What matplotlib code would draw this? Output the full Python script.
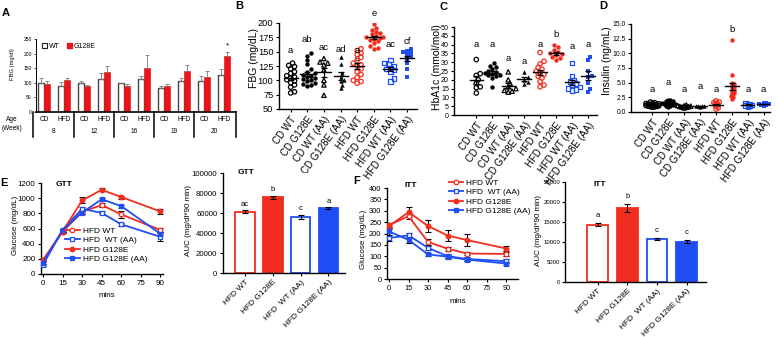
import numpy as np
import matplotlib
matplotlib.use("Agg")
import matplotlib.pyplot as plt
from matplotlib.patches import Patch

plt.rcParams['font.family'] = ['Liberation Sans', 'DejaVu Sans']

RED = '#f22d1f'
BLUE = '#1f4ef5'
A_RED = '#e8161c'

# ---------------- data ----------------
# A: FBG by age / diet / genotype
ages = ['8', '12', '16', '19', '20']
diets = ['CD', 'HFD']
a_wt = [100, 90, 99, 112, 98, 112, 82, 106, 107, 128]
a_wt_err = [15, 13, 7, 22, 3, 12, 7, 10, 17, 20]
a_mut = [97, 108, 88, 138, 89, 150, 90, 142, 120, 192]
a_mut_err = [10, 8, 5, 20, 7, 44, 7, 20, 20, 15]

groups = ['CD WT', 'CD G128E', 'CD WT (AA)', 'CD G128E (AA)',
          'HFD WT', 'HFD G128E', 'HFD WT (AA)', 'HFD G128E (AA)']

# B: FBG (mg/dL)
fbg = [
    [130, 126, 124, 120, 115, 112, 108, 106, 104, 101, 99, 96, 92, 88, 80, 78],
    [148, 143, 135, 128, 120, 115, 112, 110, 108, 106, 104, 102, 100, 98, 96, 94, 92, 90],
    [138, 132, 130, 127, 118, 100, 92, 74],
    [140, 128, 112, 106, 101, 98, 92, 86],
    [155, 152, 148, 145, 140, 135, 130, 127, 125, 120, 115, 110, 105, 100, 98, 95],
    [198, 192, 188, 185, 182, 180, 178, 176, 175, 174, 172, 170, 168, 165, 160, 157, 155],
    [135, 130, 128, 125, 122, 120, 118, 115, 103, 98],
    [155, 152, 150, 148, 145, 140, 138, 130, 120, 105],
]
fbg_letters = ['a', 'ab', 'ac', 'ad', 'a', 'e', 'ac', 'cf']
fbg_letter_y = [152, 172, 158, 154, 152, 216, 162, 167]

# C: HbA1c (mmol/mol)
hba1c = [
    [31.5, 23.5, 22.5, 20, 18, 16, 15.5, 12.5],
    [29.5, 28, 27, 26, 25, 24.5, 24, 23.5, 23, 22.5, 22, 21, 16],
    [24.5, 20, 18, 16, 15, 14, 13.5, 13],
    [24.5, 21.5, 20, 19, 17.5],
    [35.5, 30.5, 29, 27, 26, 25, 24, 23, 22, 21, 19, 17, 16],
    [40, 38.5, 37, 36, 35, 34.5, 34, 33, 32.5, 31.5],
    [29.5, 22, 20, 19, 18, 17, 16, 15, 14.5, 14],
    [33, 31, 25, 22, 21.5, 18, 15, 13],
]
hba1c_letters = ['a', 'a', 'a', 'a', 'a', 'b', 'a', 'a']
hba1c_letter_y = [40, 40, 32, 30.5, 40, 46, 39, 40]

# D: Insulin (ng/mL)
insulin = [
    [1.7, 1.6, 1.5, 1.45, 1.4, 1.35, 1.3, 1.25, 1.2, 1.15, 1.1, 1.05, 1.0, 0.95, 0.9, 0.85, 0.8],
    [2.1, 2.0, 1.9, 1.8, 1.7, 1.6, 1.5, 1.45, 1.4, 1.35, 1.3, 1.25, 1.2, 1.1, 1.0, 0.9],
    [1.2, 1.1, 1.05, 1.0, 0.95, 0.9, 0.85, 0.8, 0.7],
    [1.1, 1.05, 1.0, 0.95, 0.9],
    [1.9, 1.7, 1.6, 1.5, 1.3, 1.2, 1.0, 0.7, 0.5],
    [12.3, 6.3, 5.0, 4.8, 4.6, 4.4, 4.2, 4.0, 3.8, 3.6, 3.4, 3.2, 3.0, 2.7, 2.5, 2.2],
    [1.5, 1.4, 1.3, 1.2, 1.1, 1.0, 0.9],
    [1.6, 1.5, 1.4, 1.35, 1.3, 1.25, 1.2, 1.1],
]
insulin_letters = ['a', 'a', 'a', 'a', 'a', 'b', 'a', 'a']
insulin_letter_y = [3.9, 5.1, 3.75, 4.3, 3.75, 14.1, 3.75, 3.75]

# E/F: tolerance tests
mins = [0, 15, 30, 45, 60, 90]
tt_names = ['HFD WT', 'HFD  WT (AA)', 'HFD G128E', 'HFD G128E (AA)']
gtt = [
    [175, 555, 820, 910, 785, 580],
    [120, 580, 860, 805, 655, 490],
    [185, 560, 970, 1110, 1015, 825],
    [150, 580, 810, 985, 895, 530],
]
gtt_err = [
    [15, 20, 25, 20, 50, 25],
    [15, 20, 30, 20, 20, 50],
    [20, 20, 40, 20, 20, 35],
    [15, 20, 25, 20, 20, 20],
]
itt = [
    [237, 276, 163, 133, 112, 110],
    [180, 192, 137, 100, 88, 78],
    [232, 294, 233, 191, 171, 134],
    [209, 172, 108, 98, 85, 68],
]
itt_err = [
    [10, 12, 15, 8, 8, 8],
    [12, 12, 10, 8, 8, 8],
    [12, 22, 28, 25, 25, 12],
    [15, 12, 8, 8, 8, 8],
]

gtt_auc = [61500, 76000, 56500, 65000]
gtt_auc_err = [1500, 1500, 2000, 700]
gtt_auc_letters = ['ac', 'b', 'c', 'a']
itt_auc = [14300, 18400, 10700, 10100]
itt_auc_err = [400, 1000, 300, 300]
itt_auc_letters = ['a', 'b', 'c', 'c']

# ---------------- helpers ----------------
W, H = 777, 337
fig = plt.figure(figsize=(W / 100, H / 100), dpi=100)


def px_axes(x0, ytop, x1, ybot):
    return fig.add_axes([x0 / W, 1 - ybot / H, (x1 - x0) / W, (ybot - ytop) / H])


def style(ax, fs):
    for s in ['top', 'right']:
        ax.spines[s].set_visible(False)
    for s in ['left', 'bottom']:
        ax.spines[s].set_linewidth(1.0)
    ax.tick_params(length=2.5, width=0.8, labelsize=fs, pad=1.5)


def swarm_offsets(vals, sx, sy, diam):
    placed = []
    out = np.zeros(len(vals))
    vals = np.asarray(vals, float)
    for i in np.argsort(vals):
        y = vals[i] * sy
        x = 0.0
        for k in range(60):
            step = (k + 1) // 2
            sign = 1 if k % 2 == 1 else -1
            x = sign * step * diam * 0.45
            if all((x - px) ** 2 + (y - py) ** 2 >= (diam * 0.85) ** 2 for px, py in placed):
                break
        placed.append((x, y))
        out[i] = x / sx
    return out


styles = [('k', 'o', False), ('k', 'o', True), ('k', '^', False), ('k', '^', True),
          (RED, 'o', False), (RED, 'o', True), (BLUE, 's', False), (BLUE, 's', True)]


def dot_panel(ax, data, letters, letter_y, ylim, yticks, ylabel, xlim, box,
              fmt=None, tick_fs=6.5, diam=4.3):
    ax.set_xlim(*xlim)
    ax.set_ylim(*ylim)
    x0, ytop, x1, ybot = box
    sx = (x1 - x0) / (xlim[1] - xlim[0])
    sy = (ybot - ytop) / (ylim[1] - ylim[0])
    for i, vals in enumerate(data):
        col, mk, filled = styles[i]
        offs = swarm_offsets(vals, sx, sy, diam)
        if filled:
            ax.scatter(i + offs, vals, s=10, marker=mk, color=col, linewidths=0, zorder=3)
        else:
            ax.scatter(i + offs, vals, s=10, marker=mk, facecolors='none',
                       edgecolors=col, linewidths=0.9, zorder=3)
        m = np.mean(vals)
        se = np.std(vals, ddof=1) / np.sqrt(len(vals))
        ax.plot([i - 0.42, i + 0.42], [m, m], color='k', lw=1.0, zorder=4)
        ax.errorbar(i, m, yerr=se, color='k', lw=0.9, capsize=2.2, capthick=0.9, zorder=4)
        ax.text(i, letter_y[i], letters[i], ha='center', va='center', fontsize=6.8)
    ax.set_yticks(yticks)
    if fmt:
        ax.set_yticklabels([fmt % t for t in yticks])
    ax.set_xticks(range(len(groups)))
    ax.set_xticklabels(groups, rotation=54, ha='right', rotation_mode='anchor')
    style(ax, tick_fs)
    ax.tick_params(axis='x', labelsize=7)
    ax.set_ylabel(ylabel, fontsize=7.5)


# ---------------- A ----------------
axA = px_axes(36, 39, 236, 112)
pos = []
for g in range(5):
    pos += [4 * g + 0.8, 4 * g + 2.8]
pos = np.array(pos)
axA.bar(pos - 0.3, a_wt, width=0.55, color='white', edgecolor='#444444', lw=1.0)
axA.bar(pos + 0.3, a_mut, width=0.55, color=A_RED, edgecolor=A_RED, lw=0.5)
axA.errorbar(pos - 0.3, a_wt, yerr=[np.zeros(10), a_wt_err], fmt='none',
             ecolor='#777777', lw=0.6, capsize=1.2, capthick=0.6)
axA.errorbar(pos + 0.3, a_mut, yerr=[np.zeros(10), a_mut_err], fmt='none',
             ecolor='#777777', lw=0.6, capsize=1.2, capthick=0.6)
axA.text(pos[-1] + 0.3, 228, '*', ha='center', va='center', fontsize=6)
axA.set_xlim(0, 20)
axA.set_ylim(0, 250)
axA.set_yticks(range(0, 251, 50))
axA.set_xticks([])
style(axA, 3.6)
axA.spines['left'].set_linewidth(0.7)
axA.spines['bottom'].set_linewidth(1.2)
axA.tick_params(length=1.5, width=0.5)
axA.set_ylabel('FBG (mg/dl)', fontsize=4.2, labelpad=2)
axA.yaxis.set_label_coords(-0.105, 0.66)
trA = axA.get_xaxis_transform()
for xs in [-0.3, 3.8, 7.8, 11.8, 15.8, 20]:
    axA.plot([xs, xs], [0, -0.34], transform=trA, color='k', lw=1.1, clip_on=False)
for i, p in enumerate(pos):
    axA.text(p, -0.1, diets[i % 2], transform=trA, ha='center', va='center', fontsize=4.7)
for g, a in enumerate(ages):
    axA.text(4 * g + 1.8, -0.27, a, transform=trA, ha='center', va='center', fontsize=4.7)
axA.text(-0.12, -0.1, 'Age', transform=axA.transAxes, ha='center', va='center', fontsize=4.7)
axA.text(-0.12, -0.22, '(Week)', transform=axA.transAxes, ha='center', va='center', fontsize=4.7)
axA.legend(handles=[Patch(facecolor='white', edgecolor='#222222', lw=0.8, label='WT'),
                    Patch(facecolor=A_RED, edgecolor=A_RED, label='G128E')],
           ncol=2, loc='upper left', bbox_to_anchor=(0.03, 0.95), frameon=False,
           fontsize=5, handlelength=0.7, handleheight=0.7, handletextpad=0.3,
           columnspacing=1.0, borderpad=0, borderaxespad=0)

# ---------------- B, C, D ----------------
boxB = (279, 23, 417, 109)
axB = px_axes(*boxB)
dot_panel(axB, fbg, fbg_letters, fbg_letter_y, (50, 200), range(50, 201, 25),
          'FBG (mg/dL)', (-0.7, 7.6), boxB, tick_fs=6.7)
axB.text(4, 138, 'c', ha='center', va='center', fontsize=6.8, zorder=2)
axB.yaxis.set_label_coords(-0.145, 0.59)

boxC = (454, 27, 597, 115)
axC = px_axes(*boxC)
dot_panel(axC, hba1c, hba1c_letters, hba1c_letter_y, (0, 50), range(0, 51, 5),
          'HbA1c (mmol/mol)', (-1.4, 7.57), boxC, tick_fs=5.1)
axC.tick_params(axis='y', pad=1)
axC.yaxis.set_label_coords(-0.085, 0.55)

boxD = (631, 24, 770, 112)
axD = px_axes(*boxD)
dot_panel(axD, insulin, insulin_letters, insulin_letter_y, (0, 15),
          np.arange(0, 15.1, 2.5), 'Insulin (ng/mL)', (-1.35, 7.4), boxD,
          fmt='%.1f', tick_fs=4.9, diam=2.4)
axD.tick_params(axis='y', pad=1)
axD.yaxis.set_label_coords(-0.14, 0.58)

# ---------------- E / F line plots ----------------
line_styles = [(RED, 'o', 'white'), (BLUE, 's', 'white'), (RED, 'o', RED), (BLUE, 's', BLUE)]


def tt_panel(ax, data, err, ylim, yticks, xlim, title, tpos, tick_fs):
    for i in range(4):
        col, mk, fc = line_styles[i]
        ax.errorbar(mins, data[i], yerr=err[i], fmt='none', ecolor='k', lw=0.8,
                    capsize=2, capthick=0.8, zorder=2)
        ax.plot(mins, data[i], color=col, marker=mk, mfc=fc, mec=col, ms=3.3,
                mew=0.9, lw=1.3, label=tt_names[i], zorder=3)
    ax.set_xlim(*xlim)
    ax.set_ylim(*ylim)
    ax.set_xticks([0, 15, 30, 45, 60, 75, 90])
    ax.set_yticks(yticks)
    style(ax, tick_fs)
    ax.set_xlabel('mins', fontsize=5.8)
    ax.set_ylabel('Glucose (mg/dL)', fontsize=5.8)
    ax.text(tpos[0], tpos[1], title, transform=ax.transAxes, fontsize=6,
            fontweight='bold', ha='left', va='center')


axE1 = px_axes(41, 183, 163, 274)
tt_panel(axE1, gtt, gtt_err, (0, 1200), range(0, 1201, 200), (-1.5, 92), 'GTT',
         (0.12, 0.98), 5.8)
axE1.xaxis.set_label_coords(0.54, -0.2)
axE1.yaxis.set_label_coords(-0.18, 0.53)
axE1.legend(loc='upper left', bbox_to_anchor=(0.2, 0.52), frameon=False, fontsize=6,
            handlelength=1.7, handletextpad=0.4, labelspacing=0.2, borderpad=0,
            borderaxespad=0)

axF1 = px_axes(387, 188, 518, 279)
tt_panel(axF1, itt, itt_err, (0, 400), range(0, 401, 50), (-1.5, 99), 'ITT',
         (0.13, 1.03), 5.3)
axF1.xaxis.set_label_coords(0.54, -0.21)
axF1.yaxis.set_label_coords(-0.153, 0.43)
axF1.legend(loc='upper left', bbox_to_anchor=(0.47, 1.1), frameon=False, fontsize=6,
            handlelength=1.7, handletextpad=0.4, labelspacing=0.2, borderpad=0,
            borderaxespad=0)

# ---------------- AUC bars ----------------
bar_fc = ['white', RED, 'white', BLUE]
bar_ec = [RED, RED, BLUE, BLUE]


def auc_panel(ax, vals, errs, letters, ylim, yticks, xlim, step, title, tpos, tick_fs):
    x = np.arange(4)
    ax.bar(x, vals, width=0.7, color=bar_fc, edgecolor=bar_ec, lw=1.3)
    ax.errorbar(x, vals, yerr=errs, fmt='none', ecolor='k', lw=0.8, capsize=2, capthick=0.8)
    for i in range(4):
        ax.text(i, vals[i] + errs[i] + step, letters[i], ha='center', va='bottom', fontsize=5.5)
    ax.set_xlim(*xlim)
    ax.set_ylim(*ylim)
    ax.set_yticks(yticks)
    ax.set_xticks(x)
    ax.set_xticklabels(['HFD WT', 'HFD G128E', 'HFD  WT (AA)', 'HFD G128E (AA)'],
                       rotation=45, ha='right', rotation_mode='anchor')
    style(ax, tick_fs)
    ax.tick_params(axis='x', labelsize=6)
    ax.set_ylabel('AUC (mg/dl*90 min)', fontsize=5.8)
    ax.text(tpos[0], tpos[1], title, transform=ax.transAxes, fontsize=6,
            fontweight='bold', ha='left', va='center')


axE2 = px_axes(223, 173, 345, 273)
auc_panel(axE2, gtt_auc, gtt_auc_err, gtt_auc_letters, (0, 100000),
          range(0, 100001, 20000), (-0.8, 3.6), 2500, 'GTT', (0.12, 1.0), 5.6)
axE2.yaxis.set_label_coords(-0.254, 0.52)

axF2 = px_axes(565, 182, 706, 282)
auc_panel(axF2, itt_auc, itt_auc_err, itt_auc_letters, (0, 25000),
          range(0, 25001, 5000), (-1.1, 3.65), 1000, 'ITT', (0.2, 0.98), 4.3)
axF2.tick_params(axis='y', pad=1)
axF2.yaxis.set_label_coords(-0.16, 0.51)

# panel letters
for lab, (x, y) in {'A': (6, 13), 'B': (239, 6), 'C': (443, 7), 'D': (603, 6),
                    'E': (4, 183), 'F': (357, 181)}.items():
    fig.text(x / W, 1 - y / H, lab, fontsize=8, fontweight='bold', ha='center', va='center')

fig.savefig('out.png', dpi=100)
